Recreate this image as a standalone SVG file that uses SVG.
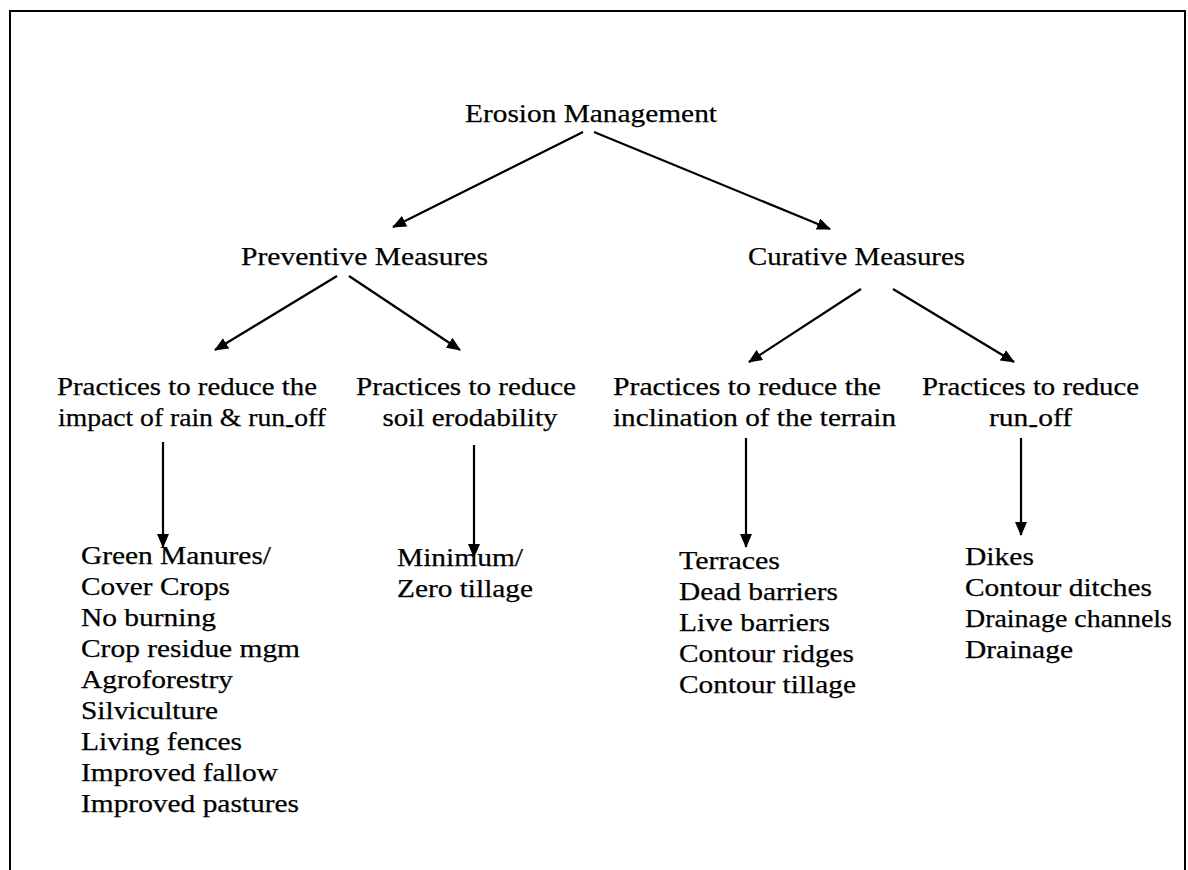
<svg xmlns="http://www.w3.org/2000/svg" width="1188" height="870" viewBox="0 0 1188 870">
  <defs>
    <style>
      text { font-family: "Liberation Serif", "Times New Roman", serif; font-size: 26px; fill: #000; stroke: #000; stroke-width: 0.25; }
      .mid { text-anchor: middle; }
      .edge { fill: none; stroke: #000; stroke-width: 2; }
      .link { fill: none; stroke: #000; stroke-width: 2.2; marker-end: url(#head); }
    </style>
    <marker id="head" markerUnits="userSpaceOnUse" markerWidth="14" markerHeight="12" refX="13" refY="6" orient="auto">
      <path d="M0,0 L14,6 L0,12 Z" fill="#000"/>
    </marker>
  </defs>

  <rect width="1188" height="870" fill="#fff"/>
  <!-- outer frame (bottom edge runs off the page) -->
  <path class="edge" d="M10,872 V11 H1185 V872"/>

  <g id="connectors">
    <line class="link" x1="583" y1="132" x2="393" y2="227"/>
    <line class="link" x1="594" y1="132" x2="830" y2="229"/>
    <line class="link" x1="337" y1="276" x2="215" y2="350"/>
    <line class="link" x1="349" y1="276" x2="460" y2="350"/>
    <line class="link" x1="861" y1="289" x2="749" y2="362"/>
    <line class="link" x1="893" y1="289" x2="1014" y2="362"/>
    <line class="link" x1="163" y1="442" x2="163" y2="547"/>
    <line class="link" x1="474" y1="445" x2="474" y2="557"/>
    <line class="link" x1="746" y1="438" x2="746" y2="547"/>
    <line class="link" x1="1021" y1="438" x2="1021" y2="535"/>
  </g>

  <g id="erosion-management">
    <text class="mid" x="591" y="122" textLength="252" lengthAdjust="spacingAndGlyphs">Erosion Management</text>
  </g>

  <g id="preventive-measures">
    <text class="mid" x="364.5" y="265" textLength="247" lengthAdjust="spacingAndGlyphs">Preventive Measures</text>
  </g>

  <g id="curative-measures">
    <text class="mid" x="856.5" y="265" textLength="217" lengthAdjust="spacingAndGlyphs">Curative Measures</text>
  </g>

  <g id="reduce-impact">
    <text x="57" y="395" textLength="260" lengthAdjust="spacingAndGlyphs">Practices to reduce the</text>
    <text x="58" y="426" textLength="268" lengthAdjust="spacingAndGlyphs">impact of rain &amp; run<tspan dy="6">-</tspan><tspan dy="-6">off</tspan></text>
  </g>

  <g id="reduce-erodability">
    <text class="mid" x="466" y="395" textLength="220" lengthAdjust="spacingAndGlyphs">Practices to reduce</text>
    <text class="mid" x="470" y="426" textLength="175" lengthAdjust="spacingAndGlyphs">soil erodability</text>
  </g>

  <g id="reduce-inclination">
    <text x="613" y="395" textLength="268" lengthAdjust="spacingAndGlyphs">Practices to reduce the</text>
    <text x="613" y="426" textLength="283" lengthAdjust="spacingAndGlyphs">inclination of the terrain</text>
  </g>

  <g id="reduce-runoff">
    <text class="mid" x="1030.5" y="395" textLength="217" lengthAdjust="spacingAndGlyphs">Practices to reduce</text>
    <text class="mid" x="1030.5" y="426" textLength="83" lengthAdjust="spacingAndGlyphs">run<tspan dy="6">-</tspan><tspan dy="-6">off</tspan></text>
  </g>

  <g id="impact-practices">
    <text x="81" y="564" textLength="190" lengthAdjust="spacingAndGlyphs">Green Manures/</text>
    <text x="81" y="595" textLength="149" lengthAdjust="spacingAndGlyphs">Cover Crops</text>
    <text x="81" y="626" textLength="135" lengthAdjust="spacingAndGlyphs">No burning</text>
    <text x="81" y="657" textLength="219" lengthAdjust="spacingAndGlyphs">Crop residue mgm</text>
    <text x="81" y="688" textLength="152" lengthAdjust="spacingAndGlyphs">Agroforestry</text>
    <text x="81" y="719" textLength="137" lengthAdjust="spacingAndGlyphs">Silviculture</text>
    <text x="81" y="750" textLength="161" lengthAdjust="spacingAndGlyphs">Living fences</text>
    <text x="81" y="781" textLength="197" lengthAdjust="spacingAndGlyphs">Improved fallow</text>
    <text x="81" y="812" textLength="218" lengthAdjust="spacingAndGlyphs">Improved pastures</text>
  </g>

  <g id="erodability-practices">
    <text x="397" y="566" textLength="126" lengthAdjust="spacingAndGlyphs">Minimum/</text>
    <text x="397" y="597" textLength="136" lengthAdjust="spacingAndGlyphs">Zero tillage</text>
  </g>

  <g id="inclination-practices">
    <text x="679" y="569" textLength="101" lengthAdjust="spacingAndGlyphs">Terraces</text>
    <text x="679" y="600" textLength="159" lengthAdjust="spacingAndGlyphs">Dead barriers</text>
    <text x="679" y="631" textLength="151" lengthAdjust="spacingAndGlyphs">Live barriers</text>
    <text x="679" y="662" textLength="175" lengthAdjust="spacingAndGlyphs">Contour ridges</text>
    <text x="679" y="693" textLength="177" lengthAdjust="spacingAndGlyphs">Contour tillage</text>
  </g>

  <g id="runoff-practices">
    <text x="965" y="565" textLength="69" lengthAdjust="spacingAndGlyphs">Dikes</text>
    <text x="965" y="596" textLength="187" lengthAdjust="spacingAndGlyphs">Contour ditches</text>
    <text x="965" y="627" textLength="207" lengthAdjust="spacingAndGlyphs">Drainage channels</text>
    <text x="965" y="658" textLength="108" lengthAdjust="spacingAndGlyphs">Drainage</text>
  </g>
</svg>
